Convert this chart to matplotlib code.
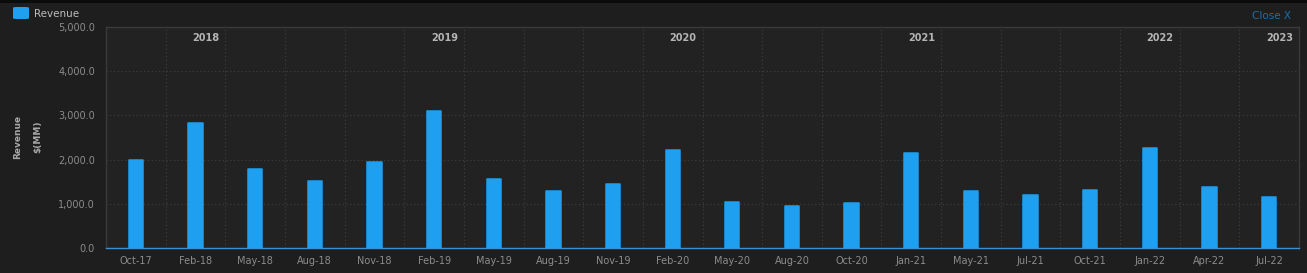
import matplotlib
matplotlib.use("Agg")
import matplotlib.pyplot as plt
from matplotlib.patches import FancyBboxPatch, Rectangle
import numpy as np

categories = ["Oct-17", "Feb-18", "May-18", "Aug-18", "Nov-18", "Feb-19", "May-19",
              "Aug-19", "Nov-19", "Feb-20", "May-20", "Aug-20", "Oct-20", "Jan-21",
              "May-21", "Jul-21", "Oct-21", "Jan-22", "Apr-22", "Jul-22"]
revenue = [1990, 2835, 1790, 1515, 1950, 3100, 1565, 1297, 1450, 2228, 1040, 954,
           1016, 2144, 1297, 1197, 1311, 2265, 1379, 1152]
year_labels = ["2018", "2019", "2020", "2021", "2022", "2023"]
year_label_categories = ["Feb-18", "Feb-19", "Feb-20", "Jan-21", "Jan-22", "Jul-22"]
yticks = [0, 1000, 2000, 3000, 4000, 5000]

BAR = "#1e9ff0"
FIG_BG = "#1e1e1e"
AX_BG = "#222222"
GRID = "#3c3c3c"
TICK = "#8c8c8c"

fig = plt.figure(figsize=(13.07, 2.73), dpi=100)
fig.patch.set_facecolor(FIG_BG)
# top dark strip
fig.add_artist(Rectangle((0, 1 - 3 / 273), 1, 3 / 273, transform=fig.transFigure,
                         facecolor="#0b0b0b", edgecolor="none"))

ax = fig.add_axes([106 / 1307, 1 - 248 / 273, (1299 - 106) / 1307, (248 - 27) / 273])
ax.set_facecolor(AX_BG)

x = np.arange(len(categories))
ax.bar(x, revenue, width=0.24, color=BAR, edgecolor=BAR, linewidth=1.1,
       joinstyle="round", zorder=3)

ax.set_xlim(-0.5, len(categories) - 0.5)
ax.set_ylim(0, 5000)
ax.set_yticks(yticks)
ax.set_yticklabels([f"{v:,.1f}" for v in yticks])
ax.set_xticks(x)
ax.set_xticklabels(categories)
ax.tick_params(axis="both", length=0, colors=TICK, labelsize=7)
ax.tick_params(axis="x", pad=6)
ax.tick_params(axis="y", pad=8)

# grid
for v in yticks[1:]:
    ax.axhline(v, color=GRID, lw=0.9, ls=(0, (1, 2)), zorder=1)
for b in np.arange(len(categories) - 1) + 0.5:
    ax.axvline(b, color=GRID, lw=0.9, ls=(0, (1, 2)), zorder=1)

for s in ["left", "top", "right"]:
    ax.spines[s].set_color("#3a3a3a")
    ax.spines[s].set_linewidth(1)
ax.spines["bottom"].set_color("#3d8fd0")
ax.spines["bottom"].set_linewidth(1)

# year labels
for lab, cat in zip(year_labels, year_label_categories):
    i = categories.index(cat)
    ax.text(i + 0.4, 4760, lab, ha="right", va="center", fontsize=7,
            fontweight="bold", color="#b4b4b4", zorder=4)

# y-axis label
fig.text(18 / 1307, 1 - 137 / 273, "Revenue", rotation=90, ha="center", va="center",
         fontsize=6.5, fontweight="bold", color="#a8a8a8")
fig.text(38 / 1307, 1 - 137 / 273, "$(MM)", rotation=90, ha="center", va="center",
         fontsize=6.5, fontweight="bold", color="#a8a8a8")

# legend
fig.add_artist(FancyBboxPatch((13 / 1307, 1 - 19 / 273), 16 / 1307, 12 / 273,
                              boxstyle="round,pad=0,rounding_size=0.003",
                              transform=fig.transFigure, facecolor=BAR, edgecolor="none"))
fig.text(34 / 1307, 1 - 14 / 273, "Revenue", ha="left", va="center", fontsize=7.5,
         color="#bdbdbd")
fig.text(1291 / 1307, 1 - 16 / 273, "Close X", ha="right", va="center", fontsize=7.5,
         color="#1c6fa8")

fig.savefig("out.png", dpi=100, facecolor=FIG_BG)
